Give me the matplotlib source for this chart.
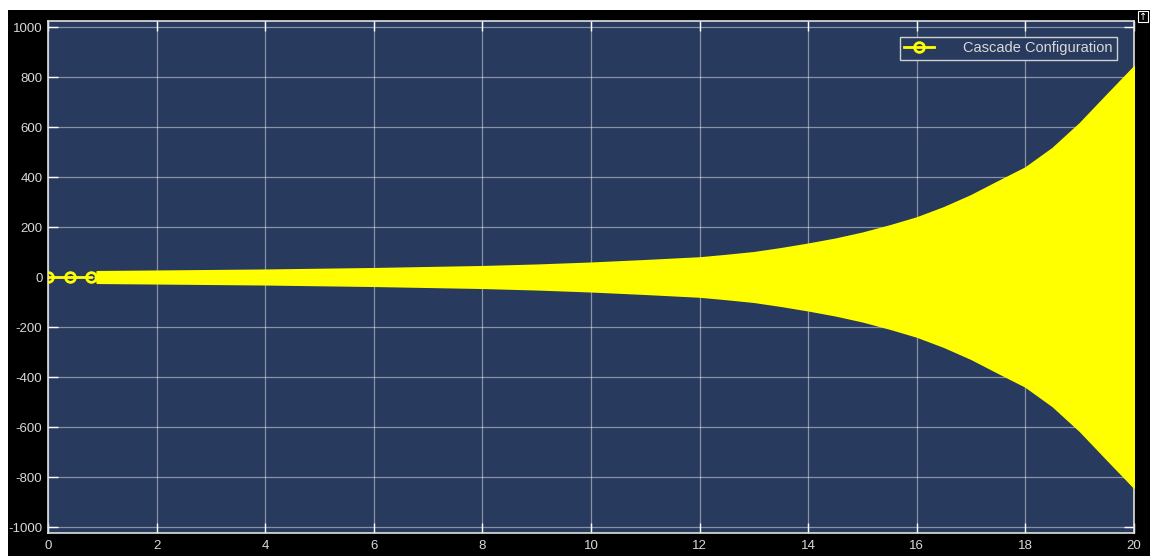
import numpy as np
import matplotlib
matplotlib.use("Agg")
import matplotlib.pyplot as plt
from matplotlib.patches import Rectangle

plt.rcParams['font.family'] = ['Liberation Sans', 'DejaVu Sans']
plt.rcParams['axes.unicode_minus'] = False

# first samples (drawn with markers)
t_start = [0.0, 0.4, 0.8]
y_start = [0.0, 0.0, 0.0]

# envelope of the fast oscillation
t_env = [0.9, 2, 3, 4, 5, 6, 7, 8, 9, 10, 11, 12, 12.5, 13, 13.5, 14, 14.5, 15, 15.5,
         16, 16.5, 17, 17.5, 18, 18.5, 19, 19.5, 20]
amp_env = [22, 24, 26, 28, 31, 34, 38, 42, 48, 56, 66, 77, 87, 98, 114, 132, 152, 176, 205,
           237, 278, 326, 382, 437, 515, 614, 728, 841]

x_ticks = [0, 2, 4, 6, 8, 10, 12, 14, 16, 18, 20]
y_ticks = [-1000, -800, -600, -400, -200, 0, 200, 400, 600, 800, 1000]

navy = '#283a5e'
yellow = '#ffff00'
txt = '#d9d9d9'

fig = plt.figure(figsize=(11.5, 5.56), dpi=100, facecolor='black')
# thin white strips top and left (outside the scope window)
fig.patches.append(Rectangle((0, 1 - 10 / 556), 1, 10 / 556, transform=fig.transFigure,
                             facecolor='white', edgecolor='none'))
fig.patches.append(Rectangle((0, 0), 8 / 1150, 1, transform=fig.transFigure,
                             facecolor='white', edgecolor='none'))

ax = fig.add_axes([48 / 1150, 1 - 533 / 556, (1134 - 48) / 1150, (533 - 21) / 556])
ax.set_facecolor(navy)

amp = np.array(amp_env)
ax.fill_between(t_env, -amp, amp, color=yellow, lw=1.5, zorder=3)
ax.plot(t_start, y_start, color=yellow, lw=2, marker='o', ms=7, mfc='none', mew=2,
        zorder=4, label='Cascade Configuration')

ax.set_xlim(0, 20)
ax.set_ylim(-1024, 1024)
ax.set_xticks(x_ticks)
ax.set_yticks(y_ticks)
ax.grid(True, color='white', alpha=0.45, lw=0.9)
ax.tick_params(direction='in', length=7, width=1, colors='white', labelcolor=txt,
               labelsize=9.5, top=True, right=True)
ax.tick_params(axis='x', pad=5)
ax.tick_params(axis='y', pad=4)
for s in ax.spines.values():
    s.set_color('#e0e0e0')
    s.set_linewidth(1.2)

leg = ax.legend(loc='upper right', bbox_to_anchor=(0.984, 0.969), borderaxespad=0,
                frameon=True, fontsize=10.5, facecolor=navy, edgecolor='#d0d0d0',
                framealpha=1, fancybox=False, labelcolor=txt, handlelength=2.0,
                handletextpad=2.0, borderpad=0.3)
leg.get_frame().set_linewidth(1)

# little undock button in the corner
fig.text(1143 / 1150, 1 - 16.5 / 556, '\u2191', color='white', fontsize=7,
         ha='center', va='center', family='DejaVu Sans',
         bbox=dict(boxstyle='square,pad=0.1', facecolor='black', edgecolor='white', lw=0.8))

fig.savefig('out.png', dpi=100, facecolor=fig.get_facecolor())
